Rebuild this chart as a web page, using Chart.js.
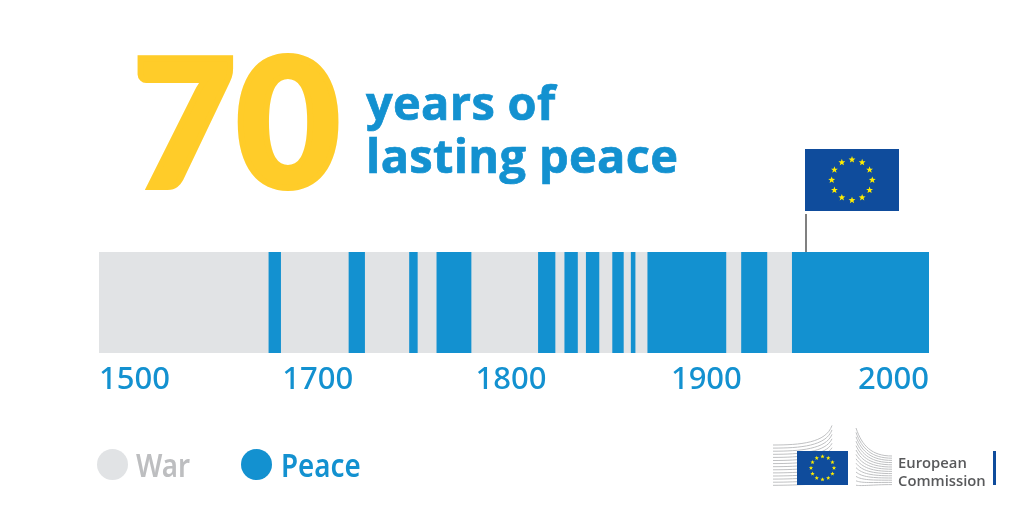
<!DOCTYPE html>
<html>
<head>
<meta charset="utf-8">
<script src="https://cdn.jsdelivr.net/npm/chart.js@4"></script>
<style>
    html, body { margin: 0; padding: 0; background: #fff; }
    #page { position: relative; width: 1024px; height: 512px; overflow: hidden; }
    #page div { position: absolute; white-space: nowrap; }
    #chart { position: absolute; left: 0; top: 0; }
    #seventy { left: 133px; top: 9px; font: 900 177px/220px Lato; letter-spacing: 1px; color: #FFCC29; -webkit-text-stroke: 6px #FFCC29; }
    .head { left: 366px; font: 700 47px/56px "Open Sans"; letter-spacing: .3px; color: #1391D0; -webkit-text-stroke: .7px #1391D0; }
    .dot { width: 31px; height: 31px; border-radius: 50%; top: 449px; }
    .key { top: 443px; font: 600 33px/44px "Noto Sans"; transform-origin: left center; transform: scaleX(.84); }
    #ec1, #ec2 { left: 898px; font: 600 14.8px/18px "Open Sans"; color: #58595B; }
    svg { position: absolute; left: 0; top: 0; }
</style>
</head>
<body>
<div id="page">
    <canvas id="chart" width="1024" height="512"></canvas>
    <svg id="art" width="1024" height="512"></svg>
    <div id="seventy">70</div>
    <div class="head" style="top:74px">years of</div>
    <div class="head" style="top:127px">lasting peace</div>
    <div class="dot" style="left:97px;background:#E1E3E5"></div>
    <div class="key" style="left:136px;color:#BDBEC0">War</div>
    <div class="dot" style="left:241px;background:#1391D0"></div>
    <div class="key" style="left:281px;color:#1391D0">Peace</div>
    <div id="ec1" style="top:453px">European</div>
    <div id="ec2" style="top:471px">Commission</div>
</div>
<script>
// years, the axis is cut short on the left (starts at "1500")
const AXIS_START = 1590
const AXIS_END = 2015

const TICK_YEARS = [1590, 1702, 1801, 1901, 2015]
const TICK_LABELS = ['1500', '1700', '1800', '1900', '2000']

const WAR_YEARS = [[1590, 2015]]
const PEACE_YEARS = [
    [1677, 1683], [1718, 1726], [1749, 1753], [1763, 1780.5],
    [1815, 1823.5], [1828.5, 1835], [1839.5, 1846], [1853, 1858.5],
    [1862.5, 1864.5], [1871, 1911], [1919, 1932], [1945, 2015]
]

const WAR_COLOR = '#E1E3E5'
const PEACE_COLOR = '#1391D0'

new Chart(document.getElementById('chart'), {
    type: 'bar',
    data: {
        datasets: [
            {
                label: 'Peace',
                data: PEACE_YEARS.map(span => ({ x: span, y: 'years' })),
                backgroundColor: PEACE_COLOR,
                order: 1
            },
            {
                label: 'War',
                data: WAR_YEARS.map(span => ({ x: span, y: 'years' })),
                backgroundColor: WAR_COLOR,
                order: 2
            }
        ]
    },
    options: {
        indexAxis: 'y',
        responsive: false,
        animation: false,
        grouped: false,
        barPercentage: 1,
        categoryPercentage: 1,
        layout: { padding: { left: 99, right: 95, top: 252, bottom: 109 } },
        plugins: { legend: { display: false }, tooltip: { enabled: false } },
        scales: {
            y: { type: 'category', labels: ['years'], display: false },
            x: {
                type: 'linear',
                min: AXIS_START,
                max: AXIS_END,
                grid: { display: false },
                border: { display: false },
                afterFit: scale => { scale.height = 50 },
                afterBuildTicks: scale => { scale.ticks = TICK_YEARS.map(value => ({ value })) },
                ticks: {
                    autoSkip: false,
                    maxRotation: 0,
                    align: 'inner',
                    padding: 1,
                    color: PEACE_COLOR,
                    font: { family: 'Noto Sans', size: 31, weight: '500' },
                    callback: value => TICK_LABELS[TICK_YEARS.indexOf(value)]
                }
            }
        }
    }
})

// flag, pole and logo
const NS = 'http://www.w3.org/2000/svg'
const art = document.getElementById('art')

function add(tag, attrs) {
    const el = document.createElementNS(NS, tag)
    for (const k in attrs) el.setAttribute(k, attrs[k])
    art.appendChild(el)
}

function flag(x, y, w, h, ringR, starR) {
    add('rect', { x, y, width: w, height: h, fill: '#0F4C9C' })
    for (let i = 0; i < 12; i++) {
        const cx = x + w / 2 + ringR * Math.sin(i * Math.PI / 6)
        const cy = y + h / 2 - ringR * Math.cos(i * Math.PI / 6)
        let pts = ''
        for (let j = 0; j < 10; j++) {
            const r = j % 2 ? starR * 0.42 : starR
            pts += (cx + r * Math.sin(j * Math.PI / 5)) + ',' + (cy - r * Math.cos(j * Math.PI / 5)) + ' '
        }
        add('polygon', { points: pts, fill: '#FFED00' })
    }
}

add('rect', { x: 805, y: 214, width: 2, height: 38, fill: '#808080' })
flag(805, 149, 94, 62, 20.3, 3.6)

for (let i = 0; i < 14; i++) {
    const y = 445 + i * 3.1
    const lift = (13 - i) * 1.35
    add('path', { d: `M773 ${y} C800 ${y} 826 ${y - 2} 832 ${y - 2 - lift}`, fill: 'none', stroke: '#BFC0C2', 'stroke-width': 1 })
}
for (let i = 0; i < 14; i++) {
    const y = 428 + i * 4.4
    const endY = 456 + i * 2.2
    add('path', { d: `M856 ${y} C862 ${y + 18 - i * 1.3} 872 ${endY} 892 ${endY}`, fill: 'none', stroke: '#BFC0C2', 'stroke-width': 1 })
}
flag(797, 451, 51, 34, 11.5, 2.3)
add('rect', { x: 993, y: 451, width: 3, height: 34, fill: '#0F4C9C' })
</script>
</body>
</html>
